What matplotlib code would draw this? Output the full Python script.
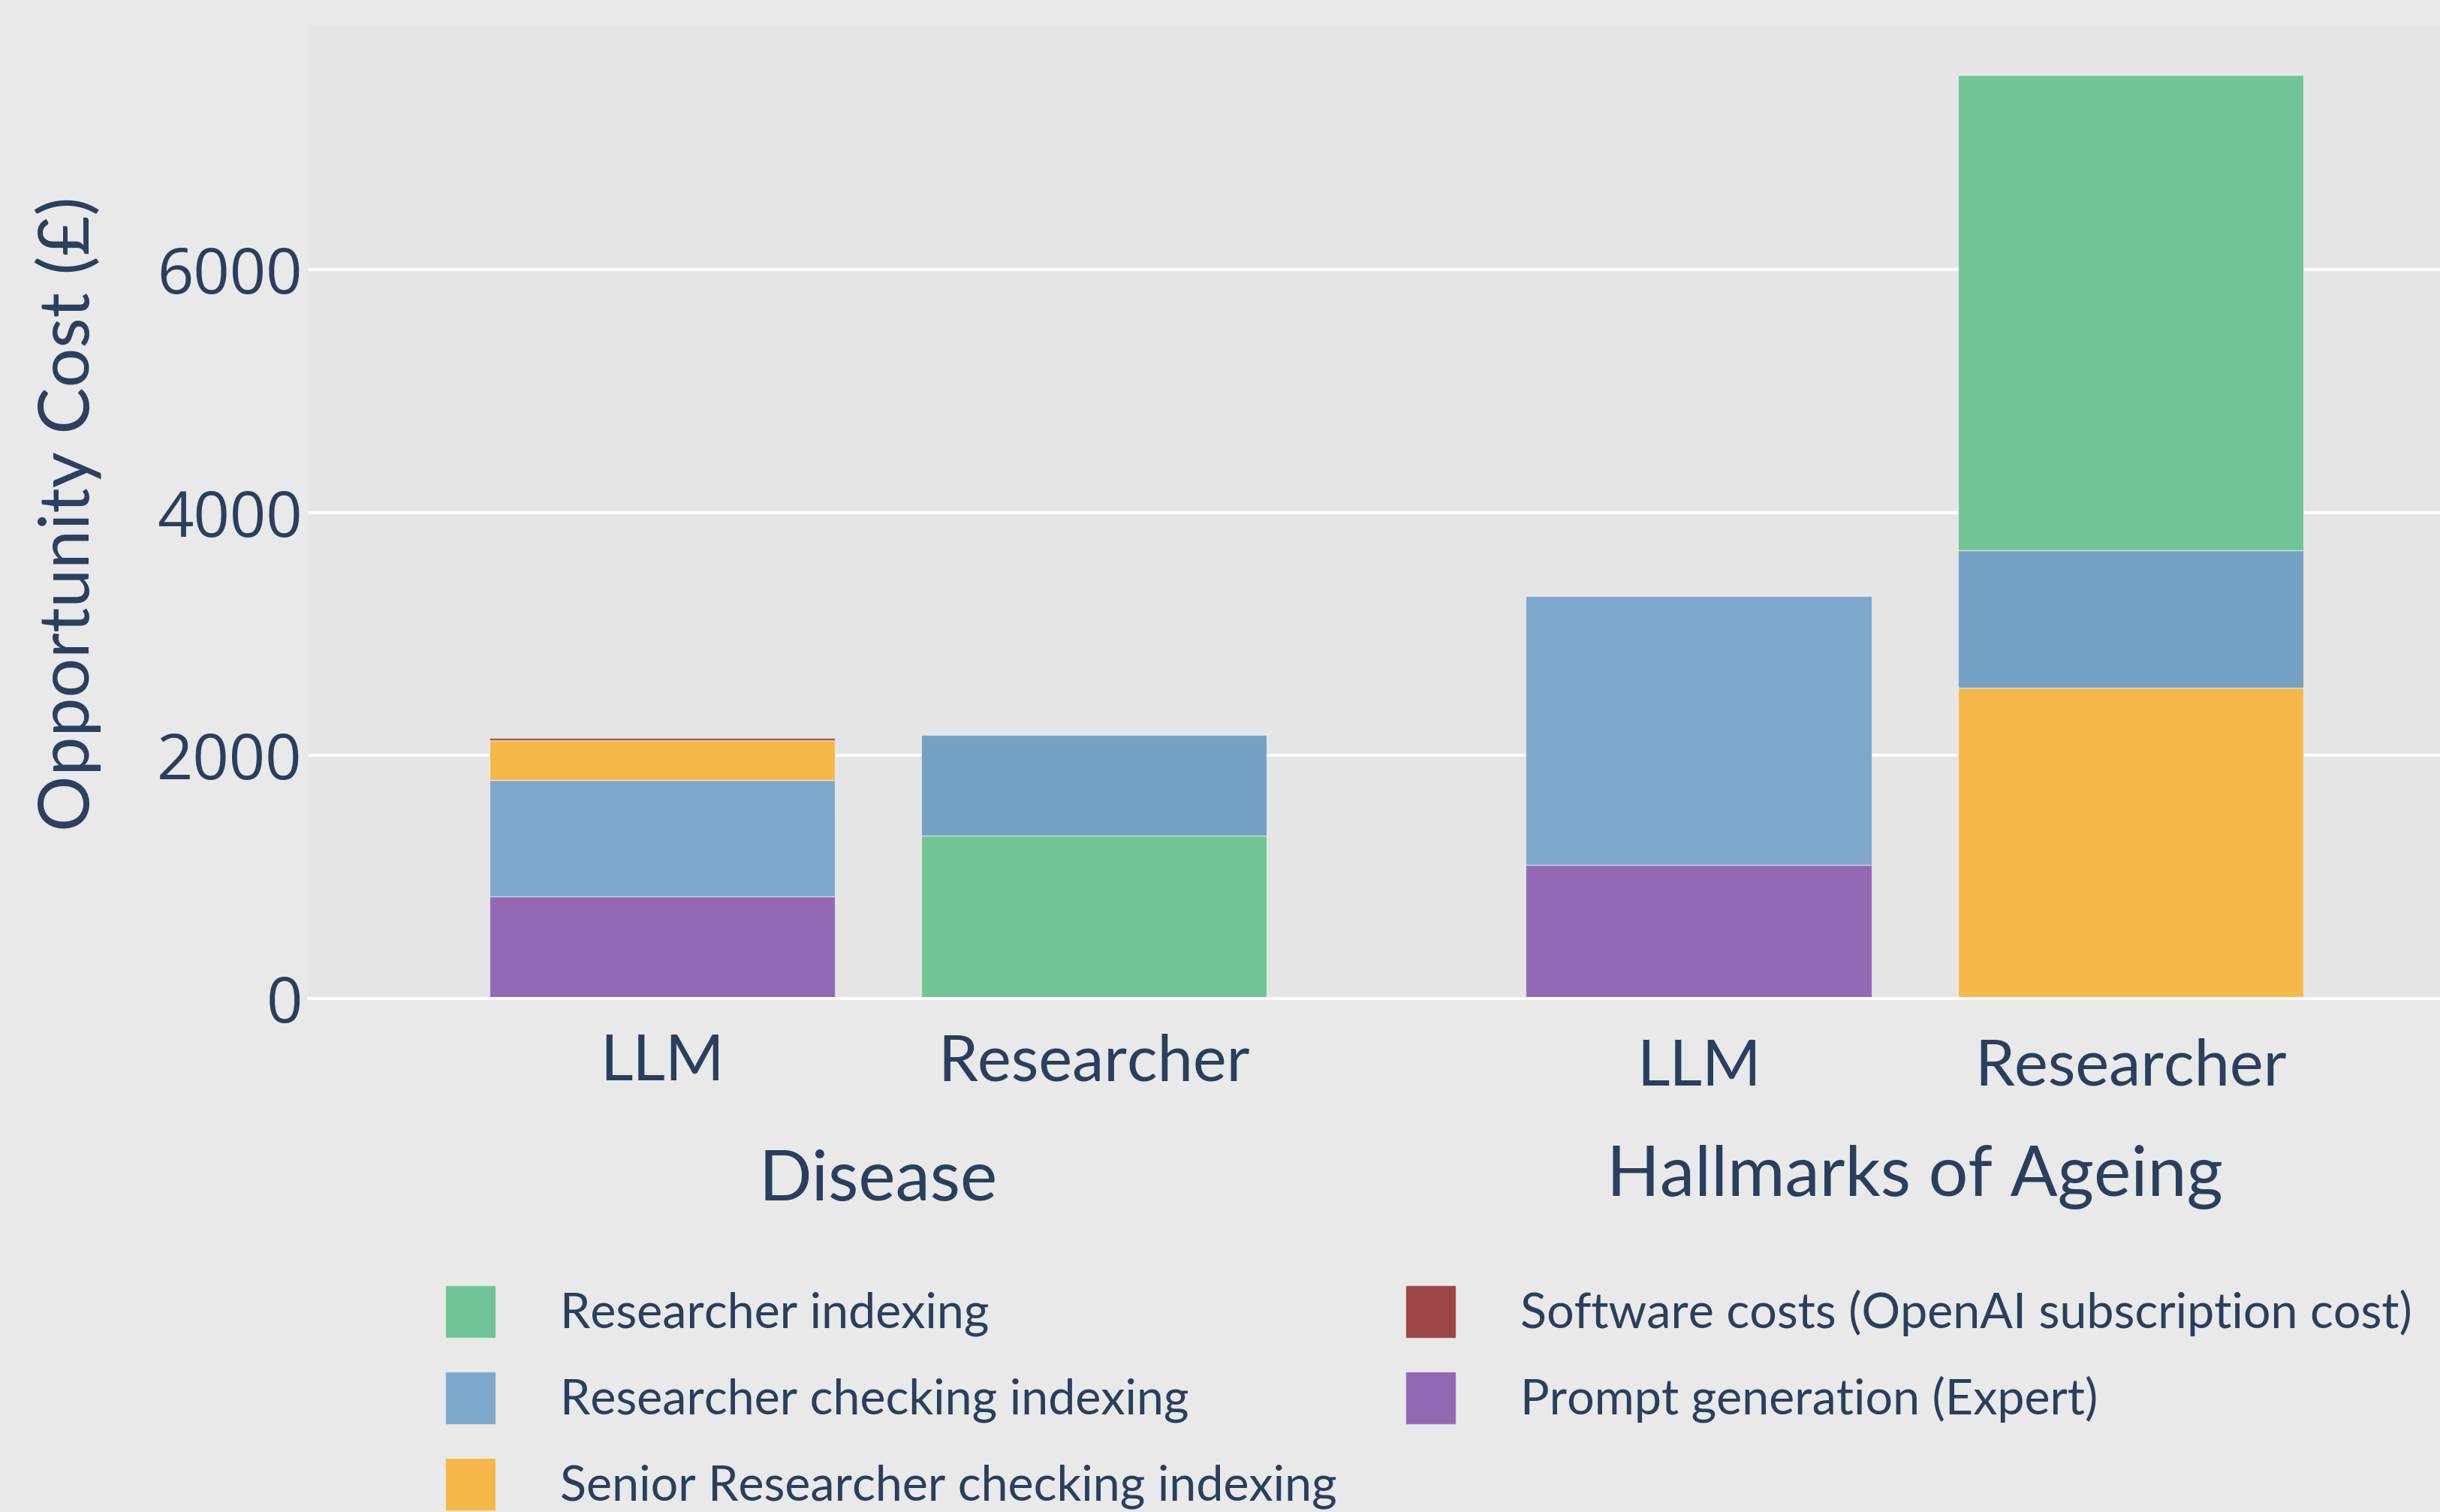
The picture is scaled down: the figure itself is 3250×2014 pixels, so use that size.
import matplotlib
matplotlib.use("Agg")
import matplotlib.pyplot as plt
import matplotlib.transforms as mtransforms
from matplotlib.patches import Patch

# ---------------- data ----------------
groups = ["Disease", "Disease", "Hallmarks of Ageing", "Hallmarks of Ageing"]
methods = ["LLM", "Researcher", "LLM", "Researcher"]

researcher_indexing = [0, 1341, 0, 3912]
researcher_checking = [958, 828, 2213, 1131]
senior_checking = [330, 0, 0, 2559]
software_costs = [18, 0, 0, 0]
prompt_generation = [838, 0, 1100, 0]

series_names = [
    "Researcher indexing",
    "Researcher checking indexing",
    "Senior Researcher checking indexing",
    "Software costs (OpenAI subscription cost)",
    "Prompt generation (Expert)",
]
series_values = {
    "Researcher indexing": researcher_indexing,
    "Researcher checking indexing": researcher_checking,
    "Senior Researcher checking indexing": senior_checking,
    "Software costs (OpenAI subscription cost)": software_costs,
    "Prompt generation (Expert)": prompt_generation,
}
# bottom-to-top stacking order for each bar
stack_order = [
    ["Prompt generation (Expert)", "Researcher checking indexing",
     "Senior Researcher checking indexing", "Software costs (OpenAI subscription cost)"],
    ["Researcher indexing", "Researcher checking indexing"],
    ["Prompt generation (Expert)", "Researcher checking indexing"],
    ["Senior Researcher checking indexing", "Researcher checking indexing", "Researcher indexing"],
]
y_ticks = [0, 2000, 4000, 6000]

# ---------------- style ----------------
colors = {
    "Researcher indexing": "#70C495",
    "Researcher checking indexing": "#7DA7CB",
    "Senior Researcher checking indexing": "#F6B749",
    "Software costs (OpenAI subscription cost)": "#9D4444",
    "Prompt generation (Expert)": "#9268B4",
}
researcher_blue = "#74A0C4"
TEXT = "#2a3f5f"
PAPER = "#E9E9E9"
PLOT = "#E5E5E5"
LAB_FONT = ["Lato", "DejaVu Sans"]
NUM_FONT = ["Open Sans", "DejaVu Sans"]

W, H = 3250, 2014
fig = plt.figure(figsize=(W / 100, H / 100), dpi=100, facecolor=PAPER)
ax_left, ax_right, ax_top, ax_bot = 411, 3250, 34, 1330
ax = fig.add_axes([ax_left / W, 1 - ax_bot / H, (ax_right - ax_left) / W, (ax_bot - ax_top) / H])
ax.set_facecolor(PLOT)

# positions: within-group spacing 1, extra gap between groups
group_gap = 0.4
xpos = []
cur = 0.0
for i, g in enumerate(groups):
    if i > 0:
        cur += 1.0 + (group_gap if g != groups[i - 1] else 0.0)
    xpos.append(cur)

bar_w = 0.8
for i, order in enumerate(stack_order):
    bottom = 0.0
    for name in order:
        v = series_values[name][i]
        if v <= 0:
            continue
        c = colors[name]
        if name == "Researcher checking indexing" and methods[i] == "Researcher":
            c = researcher_blue
        ax.bar(xpos[i], v, bottom=bottom, width=bar_w, color=c,
               edgecolor=(1, 1, 1, 0.45), linewidth=1.0, zorder=2)
        bottom += v

ax.set_xlim(-0.818, 4.116)
ax.set_ylim(0, 8010)
ax.set_yticks(y_ticks)
ax.set_yticklabels([str(t) for t in y_ticks], family=NUM_FONT, fontsize=61, color=TEXT)
ax.tick_params(axis="y", length=0, pad=6)
ax.set_xticks([])
ax.yaxis.grid(True, color="white", linewidth=2.9, zorder=0)
ax.set_axisbelow(True)
ax.axhline(0, color="white", linewidth=2.9, zorder=3, clip_on=False)
for s in ax.spines.values():
    s.set_visible(False)

# category labels
trans = mtransforms.blended_transform_factory(ax.transData, ax.transAxes)
axh = ax_bot - ax_top
def ybase(px):
    return (ax_bot - px) / axh

label_base = {"Disease": 1439, "Hallmarks of Ageing": 1446}
group_base = {"Disease": 1599, "Hallmarks of Ageing": 1593}
for i, m in enumerate(methods):
    ax.text(xpos[i], ybase(label_base[groups[i]]), m, transform=trans, ha="center",
            va="baseline", family=LAB_FONT, fontsize=61, color=TEXT)
seen = []
for g in groups:
    if g in seen:
        continue
    seen.append(g)
    xs = [xpos[i] for i in range(len(groups)) if groups[i] == g]
    ax.text(sum(xs) / len(xs), ybase(group_base[g]), g, transform=trans, ha="center",
            va="baseline", family=LAB_FONT, fontsize=67, color=TEXT)

# y axis title
fig.text(91 / W, 1 - 684 / H, "Opportunity Cost (£)", rotation=90, ha="center", va="center",
         family=LAB_FONT, fontsize=67, color=TEXT)

# legend (two columns)
def make_handles(names):
    return [Patch(facecolor=colors[n], edgecolor=(1, 1, 1, 0.45), linewidth=1.0) for n in names]

leg_kw = dict(loc="upper left", frameon=False, borderpad=0, borderaxespad=0,
              handlelength=1.04, handleheight=1.30, handletextpad=1.33, labelspacing=0.69,
              prop={"family": LAB_FONT, "size": 46.5}, labelcolor=TEXT)
col1 = series_names[:3]
col2 = series_names[3:]
leg1 = fig.legend(make_handles(col1), col1, bbox_to_anchor=(593 / W, 1 - 1712 / H), **leg_kw)
leg2 = fig.legend(make_handles(col2), col2, bbox_to_anchor=(1872 / W, 1 - 1712 / H), **leg_kw)

fig.savefig("out.png", dpi=100, facecolor=PAPER)
